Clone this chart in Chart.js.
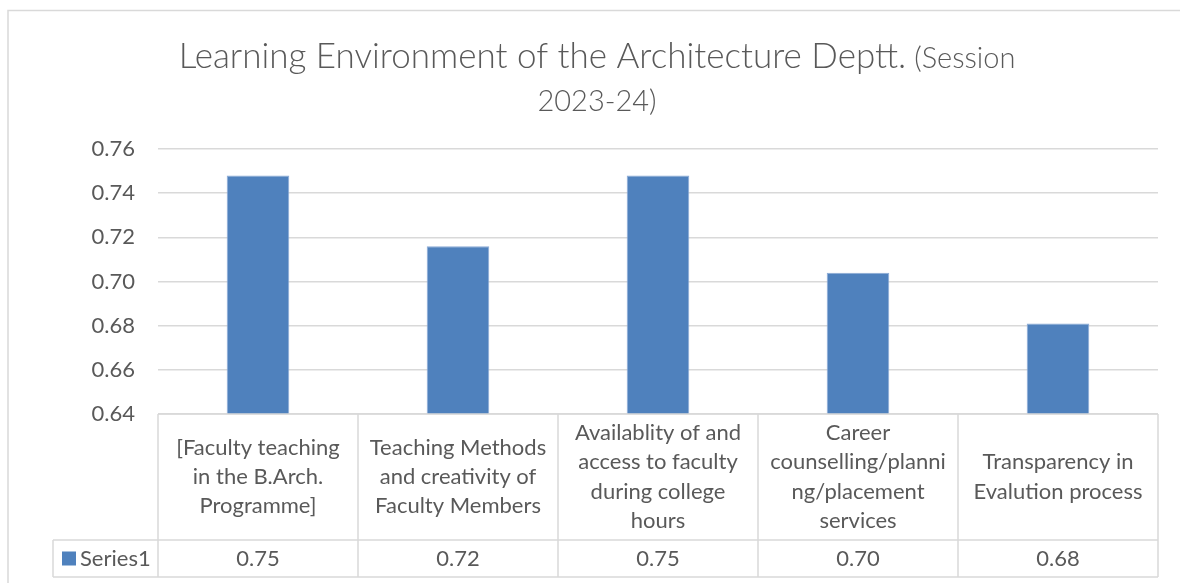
<!DOCTYPE html>
<html>
<head>
<meta charset="utf-8">
<script src="https://cdn.jsdelivr.net/npm/chart.js@4"></script>
<style>
  html, body { margin: 0; padding: 0; background: #fff; }
  #wrap { position: relative; width: 1180px; height: 583px; }
</style>
</head>
<body>
<div id="wrap"><canvas id="chart" width="1180" height="583"></canvas></div>
<script>
// datos
const categories = [
    ['[Faculty teaching', 'in the B.Arch.', 'Programme]'],
    ['Teaching Methods', 'and creativity of', 'Faculty Members'],
    ['Availablity of and', 'access to faculty', 'during college', 'hours'],
    ['Career', 'counselling/planni', 'ng/placement', 'services'],
    ['Transparency in', 'Evalution process']
];
const series1 = [0.748, 0.716, 0.748, 0.704, 0.681];
const seriesName = 'Series1';
const titleMain = 'Learning Environment of the Architecture Deptt.';
const titleSmall = ' (Session';
const titleLine2 = '2023-24)';

const textColor = '#595959';
const lineColor = '#d9d9d9';
const barColor = '#4f81bd';
const fontFamily = 'Lato, "Open Sans", sans-serif';

// Título con dos tamaños de letra
const titlePlugin = {
    id: 'excelTitle',
    afterDraw(chart) {
        const ctx = chart.ctx;
        const cx = 597;
        ctx.save();
        ctx.fillStyle = textColor;
        ctx.textBaseline = 'alphabetic';
        ctx.textAlign = 'left';
        ctx.font = '300 35px ' + fontFamily;
        const w1 = ctx.measureText(titleMain).width;
        ctx.font = '300 29px ' + fontFamily;
        const w2 = ctx.measureText(titleSmall).width;
        let x = cx - (w1 + w2) / 2;
        ctx.font = '300 35px ' + fontFamily;
        ctx.fillText(titleMain, x, 68);
        ctx.font = '300 29px ' + fontFamily;
        ctx.fillText(titleSmall, x + w1, 68);
        ctx.textAlign = 'center';
        ctx.font = '300 29px ' + fontFamily;
        ctx.fillText(titleLine2, cx, 111);
        ctx.restore();
    }
};

// Tabla de datos debajo del gráfico
const tablePlugin = {
    id: 'dataTable',
    afterDraw(chart) {
        const ctx = chart.ctx;
        const area = chart.chartArea;
        const xScale = chart.scales.x;
        const n = categories.length;
        const colW = (area.right - area.left) / n;
        const top = area.bottom;
        const mid = top + 126;
        const bottom = xScale.bottom;
        const leftCol = 53;

        ctx.save();
        ctx.strokeStyle = lineColor;
        ctx.lineWidth = 1.5;
        ctx.beginPath();
        ctx.moveTo(area.left, top); ctx.lineTo(area.right, top);
        ctx.moveTo(leftCol, mid); ctx.lineTo(area.right, mid);
        ctx.moveTo(leftCol, bottom); ctx.lineTo(area.right, bottom);
        ctx.moveTo(leftCol, mid); ctx.lineTo(leftCol, bottom);
        for (let i = 0; i <= n; i++) {
            const bx = area.left + i * colW;
            ctx.moveTo(bx, top); ctx.lineTo(bx, bottom);
        }
        ctx.stroke();

        ctx.fillStyle = textColor;
        ctx.font = '22px ' + fontFamily;
        ctx.textAlign = 'center';
        ctx.textBaseline = 'middle';
        const lineH = 29.3;
        const headMid = (top + mid) / 2;
        const rowMid = (mid + bottom) / 2;
        for (let i = 0; i < n; i++) {
            const cx = xScale.getPixelForValue(i);
            const lines = categories[i];
            const y0 = headMid - (lines.length - 1) * lineH / 2;
            lines.forEach((t, k) => ctx.fillText(t, cx, y0 + k * lineH));
            ctx.fillText(series1[i].toFixed(2), cx, rowMid);
        }

        // leyenda en la tabla
        ctx.fillStyle = barColor;
        ctx.fillRect(62, rowMid - 7, 14, 14);
        ctx.fillStyle = textColor;
        ctx.textAlign = 'left';
        ctx.fillText(seriesName, 80, rowMid);

        // borde exterior
        ctx.strokeStyle = lineColor;
        ctx.lineWidth = 1.5;
        ctx.beginPath();
        ctx.moveTo(8, 600); ctx.lineTo(8, 10.5); ctx.lineTo(1180, 10.5);
        ctx.stroke();
        ctx.restore();
    }
};

new Chart(document.getElementById('chart'), {
    type: 'bar',
    data: {
        labels: categories.map(c => c.join(' ')),
        datasets: [{
            label: seriesName,
            data: series1,
            backgroundColor: barColor,
            borderColor: '#8aaad6',
            borderWidth: 1,
            barPercentage: 0.313,
            categoryPercentage: 1
        }]
    },
    options: {
        responsive: false,
        animation: false,
        layout: { padding: { top: 149, right: 22, bottom: 6, left: 0 } },
        plugins: {
            legend: { display: false },
            title: { display: false },
            tooltip: { enabled: false }
        },
        scales: {
            x: {
                grid: { display: false },
                border: { display: false },
                ticks: { display: false },
                afterFit(scale) { scale.height = 163; }
            },
            y: {
                min: 0.64,
                max: 0.76,
                ticks: {
                    stepSize: 0.02,
                    padding: 23,
                    color: textColor,
                    font: { family: fontFamily, size: 22 },
                    callback: v => v.toFixed(2)
                },
                grid: { color: lineColor, lineWidth: 1.5, drawTicks: false },
                border: { display: false },
                afterFit(scale) { scale.width = 158; }
            }
        }
    },
    plugins: [titlePlugin, tablePlugin]
});
</script>
</body>
</html>
